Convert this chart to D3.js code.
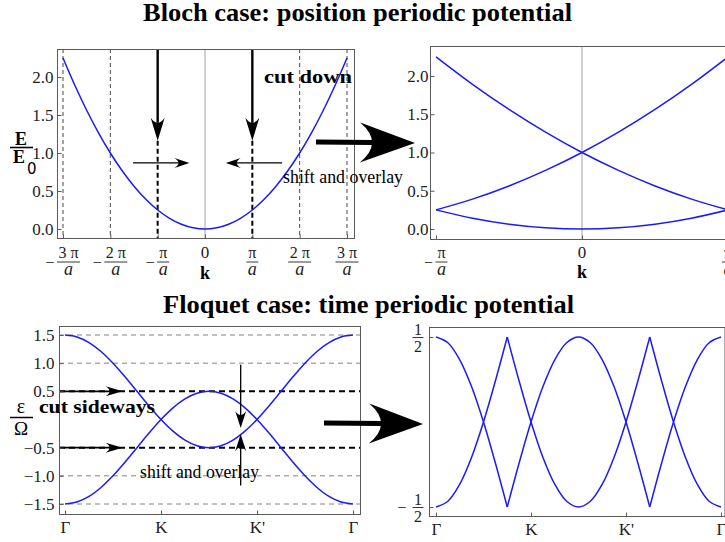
<!DOCTYPE html>
<html><head><meta charset="utf-8">
<script src="https://cdn.jsdelivr.net/npm/d3@7"></script>
<style>body{margin:0;background:#fff;} svg{display:block;}</style>
</head><body>
<svg id="chart" width="725" height="542"></svg>
<script>
// ---------------- data ----------------
const blochK = [-3,-2.75,-2.5,-2.25,-2,-1.75,-1.5,-1.25,-1,-0.75,-0.5,-0.25,0,0.25,0.5,0.75,1,1.25,1.5,1.75,2,2.25,2.5,2.75,3];
const blochEnergy = [2.25,1.891,1.563,1.266,1.0,0.766,0.563,0.391,0.25,0.141,0.063,0.016,0,0.016,0.063,0.141,0.25,0.391,0.563,0.766,1.0,1.266,1.563,1.891,2.25];
const blochYTicks = [0,0.5,1,1.5,2];
const blochXTicks = [-3,-2,-1,0,1,2,3];
const blochXTickSigns = ["−","−","−","","","",""];
const blochXTickNums = ["3 π","2 π","π","0","π","2 π","3 π"];
const blochXTickDens = ["a","a","a","","a","a","a"];
const blochFoldXTicks = [-1,0,1];
const blochFoldXTickSigns = ["−","",""];
const blochFoldXTickNums = ["π","0","π"];
const blochFoldXTickDens = ["a","","a"];

const floquetT = [0,0.125,0.25,0.375,0.5,0.625,0.75,0.875,1,1.125,1.25,1.375,1.5,1.625,1.75,1.875,2,2.125,2.25,2.375,2.5,2.625,2.75,2.875,3];
const floquetUpper = [1.5,1.466,1.366,1.207,1.0,0.759,0.5,0.241,0,-0.207,-0.366,-0.466,-0.5,-0.466,-0.366,-0.207,0,0.241,0.5,0.759,1.0,1.207,1.366,1.466,1.5];
const floquetLower = [-1.5,-1.466,-1.366,-1.207,-1.0,-0.759,-0.5,-0.241,0,0.207,0.366,0.466,0.5,0.466,0.366,0.207,0,-0.241,-0.5,-0.759,-1.0,-1.207,-1.366,-1.466,-1.5];
const floquetXTicks = [0,1,2,3];
const floquetXTickLabels = ["Γ","K","K'","Γ"];
const floquetYTicks = [1.5,1.0,0.5,-0.5,-1.0,-1.5];
const floquetThinLines = [1.5,1.0,-1.0,-1.5];
const floquetCutLines = [0.5,-0.5];
const floquetFoldYTicks = [0.5,-0.5];
const floquetFoldYSigns = ["","−"];

// ---------------- setup ----------------
const SERIF = "'Liberation Serif','DejaVu Serif','Times New Roman',serif";
const BLUE = "#1a1aff";
const FRAME = "#5a5a5a";
const svg = d3.select("#chart");

const P1 = {l:57, r:354, t:49, b:238};
const x1 = d3.scaleLinear().domain([-3,3]).range([63,347]);
const y1 = d3.scaleLinear().domain([0,2]).range([229,77]);
const P2 = {l:430, r:742, t:46, b:239};
const x2 = d3.scaleLinear().domain([-1,1]).range([436,728]);
const y2 = d3.scaleLinear().domain([0,2]).range([229,76]);
const P3 = {l:59, r:360, t:326, b:514};
const x3 = d3.scaleLinear().domain([0,3]).range([65,353]);
const y3 = d3.scaleLinear().domain([-1.5,1.5]).range([504,335]);
const P4 = {l:429, r:724.5, t:327, b:516};
const x4 = d3.scaleLinear().domain([0,3]).range([436,721]);
const y4 = d3.scaleLinear().domain([-0.5,0.5]).range([507,337]);

function frame(P){
  svg.append("rect").attr("x",P.l+0.5).attr("y",P.t+0.5)
    .attr("width",P.r-P.l).attr("height",P.b-P.t)
    .attr("fill","none").attr("stroke",FRAME).attr("stroke-width",1);
}
function curve(x,y,pts){
  return svg.append("path").datum(pts)
    .attr("d", d3.line().x(d=>x(d.x)).y(d=>y(d.y)).curve(d3.curveCatmullRom.alpha(0.5)))
    .attr("fill","none").attr("stroke",BLUE).attr("stroke-width",1.5);
}
// split a sampled band into pieces translated back into the first zone
function fold(xs, ys, shiftFn){
  const segs=[]; let cur=null, key=null;
  for(let i=0;i<xs.length-1;i++){
    const s = shiftFn((xs[i]+xs[i+1])/2,(ys[i]+ys[i+1])/2);
    const k = s.join(",");
    if(k!==key){ cur=[{x:xs[i]+s[0],y:ys[i]+s[1]}]; segs.push(cur); key=k; }
    cur.push({x:xs[i+1]+s[0],y:ys[i+1]+s[1]});
  }
  return segs;
}
function head(tx,ty,ang,L,W,notch){
  const p = `M0,0 L${-L},${-W/2} Q${-L+2*notch},0 ${-L},${W/2} Z`;
  svg.append("path").attr("d",p).attr("fill","#000")
    .attr("transform",`translate(${tx},${ty}) rotate(${ang})`);
}
function arrow(x0,y0,x1_,y1_,sw,L,W,notch){
  const ang = Math.atan2(y1_-y0,x1_-x0)*180/Math.PI;
  const len = Math.hypot(x1_-x0,y1_-y0);
  const ex = x0 + (x1_-x0)*(len-L+notch)/len, ey = y0 + (y1_-y0)*(len-L+notch)/len;
  svg.append("line").attr("x1",x0).attr("y1",y0).attr("x2",ex).attr("y2",ey)
    .attr("stroke","#000").attr("stroke-width",sw);
  head(x1_,y1_,ang,L,W,notch);
}
function styleAxis(g, size){
  g.select(".domain").remove();
  g.selectAll(".tick line").attr("stroke",FRAME);
  g.selectAll("text").attr("font-family",SERIF).attr("font-size",size).attr("fill","#222");
}
function fracLabel(cx, sign, num, den, yNum, yBar, yDen){
  const grp = svg.append("g");
  if(!den){
    grp.append("text").attr("x",cx).attr("y",yNum).attr("text-anchor","middle")
      .attr("font-family",SERIF).attr("font-size",17).attr("fill","#222").text(num);
    return;
  }
  const tN = grp.append("text").attr("text-anchor","middle").attr("font-family",SERIF)
    .attr("font-size",16).attr("fill","#222").text(num);
  const tD = grp.append("text").attr("text-anchor","middle").attr("font-family",SERIF)
    .attr("font-style","italic").attr("font-size",18).attr("fill","#222").text(den);
  const w = Math.max(tN.node().getComputedTextLength(), tD.node().getComputedTextLength()) + 3;
  const sW = sign ? 11 : 0;
  const left = cx - (sW + w)/2;
  const fc = left + sW + w/2;
  tN.attr("x",fc).attr("y",yNum);
  tD.attr("x",fc).attr("y",yDen);
  grp.append("line").attr("x1",fc-w/2).attr("x2",fc+w/2).attr("y1",yBar).attr("y2",yBar)
    .attr("stroke","#222").attr("stroke-width",0.9);
  if(sign) grp.append("text").attr("x",left+4).attr("y",yBar+5.5).attr("text-anchor","middle")
    .attr("font-family",SERIF).attr("font-size",16).attr("fill","#222").text(sign);
}

// ---------------- titles ----------------
svg.append("text").attr("x",143).attr("y",21).attr("font-family",SERIF).attr("font-weight","bold")
  .attr("font-size",25).attr("textLength",429).attr("lengthAdjust","spacingAndGlyphs")
  .text("Bloch case: position periodic potential");
svg.append("text").attr("x",163).attr("y",313).attr("font-family",SERIF).attr("font-weight","bold")
  .attr("font-size",25).attr("textLength",411).attr("lengthAdjust","spacingAndGlyphs")
  .text("Floquet case: time periodic potential");

// ---------------- panel 1: Bloch extended ----------------
svg.append("line").attr("x1",x1(0)).attr("x2",x1(0)).attr("y1",P1.t).attr("y2",P1.b)
  .attr("stroke","#b0b0b0").attr("stroke-width",1.2);
[-3,-2,2,3].forEach(v=>{
  svg.append("line").attr("x1",x1(v)).attr("x2",x1(v)).attr("y1",P1.t).attr("y2",P1.b)
    .attr("stroke","#333").attr("stroke-width",0.9).attr("stroke-dasharray","4,3");
});
const cutTipE = 1.16;
[-1,1].forEach(v=>{
  svg.append("line").attr("x1",x1(v)).attr("x2",x1(v)).attr("y1",y1(cutTipE)).attr("y2",P1.b)
    .attr("stroke","#000").attr("stroke-width",2).attr("stroke-dasharray","5,3");
  arrow(x1(v),P1.t,x1(v),y1(cutTipE),2.4,23,14,5);
});
curve(x1,y1,blochK.map((k,i)=>({x:k,y:blochEnergy[i]})));
frame(P1);
const ax1y = svg.append("g").attr("transform",`translate(${P1.l+0.5},0)`)
  .call(d3.axisLeft(y1).tickValues(blochYTicks).tickFormat(d3.format(".1f")).tickSizeInner(-4).tickSizeOuter(0).tickPadding(4));
styleAxis(ax1y,17);
const ax1x = svg.append("g").attr("transform",`translate(0,${P1.b+0.5})`)
  .call(d3.axisBottom(x1).tickValues(blochXTicks).tickFormat(()=>"").tickSizeInner(-4).tickSizeOuter(0));
styleAxis(ax1x,17);
blochXTicks.forEach((v,i)=>fracLabel(x1(v),blochXTickSigns[i],blochXTickNums[i],blochXTickDens[i],258,262,275));
svg.append("text").attr("x",x1(0)).attr("y",279).attr("text-anchor","middle").attr("font-family",SERIF)
  .attr("font-weight","bold").attr("font-size",18).text("k");
// E/E0 label
svg.append("text").attr("x",21).attr("y",145).attr("text-anchor","middle").attr("font-family",SERIF)
  .attr("font-weight","bold").attr("font-size",18).text("E");
svg.append("line").attr("x1",10).attr("x2",33).attr("y1",147.5).attr("y2",147.5).attr("stroke","#000").attr("stroke-width",1.6);
svg.append("text").attr("x",13).attr("y",163).attr("font-family",SERIF)
  .attr("font-weight","bold").attr("font-size",18).text("E");
svg.append("text").attr("x",27).attr("y",174).attr("font-family","'DejaVu Sans',sans-serif")
  .attr("font-size",15).text("0");
// annotations
arrow(x1(-1.52),y1(0.87),x1(-0.33),y1(0.87),1.4,15,10,4);
arrow(x1(1.63),y1(0.87),x1(0.44),y1(0.87),1.4,15,10,4);
svg.append("text").attr("x",264).attr("y",83).attr("font-family",SERIF).attr("font-weight","bold")
  .attr("font-size",18).attr("textLength",88).attr("lengthAdjust","spacingAndGlyphs").text("cut down");
svg.append("text").attr("x",283).attr("y",183).attr("font-family",SERIF)
  .attr("font-size",19).attr("textLength",120).attr("lengthAdjust","spacingAndGlyphs").text("shift and overlay");

// ---------------- panel 2: Bloch reduced ----------------
svg.append("line").attr("x1",x2(0)).attr("x2",x2(0)).attr("y1",P2.t).attr("y2",P2.b)
  .attr("stroke","#b0b0b0").attr("stroke-width",1.2);
fold(blochK,blochEnergy,(mx)=>[-2*Math.round(mx/2),0]).forEach(seg=>curve(x2,y2,seg));
frame(P2);
const ax2y = svg.append("g").attr("transform",`translate(${P2.l+0.5},0)`)
  .call(d3.axisLeft(y2).tickValues(blochYTicks).tickFormat(d3.format(".1f")).tickSizeInner(-4).tickSizeOuter(0).tickPadding(2));
styleAxis(ax2y,17);
const ax2x = svg.append("g").attr("transform",`translate(0,${P2.b+0.5})`)
  .call(d3.axisBottom(x2).tickValues(blochFoldXTicks).tickFormat(()=>"").tickSizeInner(-4).tickSizeOuter(0));
styleAxis(ax2x,17);
blochFoldXTicks.forEach((v,i)=>fracLabel(x2(v),blochFoldXTickSigns[i],blochFoldXTickNums[i],blochFoldXTickDens[i],258,262,275));
svg.append("text").attr("x",x2(0)).attr("y",278).attr("text-anchor","middle").attr("font-family",SERIF)
  .attr("font-weight","bold").attr("font-size",18).text("k");

// big arrow top
arrow(316,142,415,143,5,55,40,12);

// ---------------- panel 3: Floquet extended ----------------
floquetThinLines.forEach(v=>{
  svg.append("line").attr("x1",P3.l).attr("x2",P3.r).attr("y1",y3(v)).attr("y2",y3(v))
    .attr("stroke","#777").attr("stroke-width",0.9).attr("stroke-dasharray","5,4");
});
floquetCutLines.forEach(v=>{
  svg.append("line").attr("x1",P3.l).attr("x2",P3.r).attr("y1",y3(v)).attr("y2",y3(v))
    .attr("stroke","#000").attr("stroke-width",2).attr("stroke-dasharray","6,4");
  arrow(P3.l,y3(v),x3(0.6),y3(v),1.6,17,10,4);
});
curve(x3,y3,floquetT.map((t,i)=>({x:t,y:floquetUpper[i]})));
curve(x3,y3,floquetT.map((t,i)=>({x:t,y:floquetLower[i]})));
frame(P3);
const ax3y = svg.append("g").attr("transform",`translate(${P3.l+0.5},0)`)
  .call(d3.axisLeft(y3).tickValues(floquetYTicks).tickFormat(d3.format(".1f")).tickSizeInner(-4).tickSizeOuter(0).tickPadding(5));
styleAxis(ax3y,17);
const ax3x = svg.append("g").attr("transform",`translate(0,${P3.b+0.5})`)
  .call(d3.axisBottom(x3).tickValues(floquetXTicks).tickFormat((d,i)=>floquetXTickLabels[i]).tickSizeInner(-4).tickSizeOuter(0).tickPadding(6));
styleAxis(ax3x,17);
// epsilon / Omega label
svg.append("text").attr("x",21).attr("y",413).attr("text-anchor","middle").attr("font-family",SERIF)
  .attr("font-size",20).text("ε");
svg.append("line").attr("x1",10).attr("x2",33).attr("y1",417.5).attr("y2",417.5).attr("stroke","#000").attr("stroke-width",1.5);
svg.append("text").attr("x",21).attr("y",435).attr("text-anchor","middle").attr("font-family",SERIF)
  .attr("font-size",19).text("Ω");
svg.append("text").attr("x",39).attr("y",413).attr("font-family",SERIF).attr("font-weight","bold")
  .attr("font-size",19).attr("textLength",116).attr("lengthAdjust","spacingAndGlyphs").text("cut sideways");
svg.append("text").attr("x",140).attr("y",478).attr("font-family",SERIF)
  .attr("font-size",19).attr("textLength",119).attr("lengthAdjust","spacingAndGlyphs").text("shift and overlay");
arrow(x3(1.83),y3(0.97),x3(1.83),y3(-0.15),1.3,17,11,4);
arrow(x3(1.83),y3(-1.17),x3(1.83),y3(-0.26),1.3,17,11,4);

// ---------------- panel 4: Floquet reduced ----------------
const fShift = (mx,my)=>[0, my>0.5 ? -1 : (my<-0.5 ? 1 : 0)];
fold(floquetT,floquetUpper,fShift).forEach(seg=>curve(x4,y4,seg));
fold(floquetT,floquetLower,fShift).forEach(seg=>curve(x4,y4,seg));
frame(P4);
const ax4y = svg.append("g").attr("transform",`translate(${P4.l+0.5},0)`)
  .call(d3.axisLeft(y4).tickValues(floquetFoldYTicks).tickFormat(()=>"").tickSizeInner(-4).tickSizeOuter(0));
styleAxis(ax4y,17);
floquetFoldYTicks.forEach((v,i)=>{
  const yb = y4(v);
  const fc = 418;
  svg.append("text").attr("x",fc).attr("y",yb-2).attr("text-anchor","middle").attr("font-family",SERIF)
    .attr("font-size",16).attr("fill","#222").text("1");
  svg.append("line").attr("x1",fc-5.5).attr("x2",fc+5.5).attr("y1",yb+0.5).attr("y2",yb+0.5).attr("stroke","#222").attr("stroke-width",0.9);
  svg.append("text").attr("x",fc).attr("y",yb+15).attr("text-anchor","middle").attr("font-family",SERIF)
    .attr("font-size",16).attr("fill","#222").text("2");
  if(floquetFoldYSigns[i]) svg.append("text").attr("x",fc-16).attr("y",yb+5.5).attr("text-anchor","middle")
    .attr("font-family",SERIF).attr("font-size",16).attr("fill","#222").text(floquetFoldYSigns[i]);
});
const ax4x = svg.append("g").attr("transform",`translate(0,${P4.b+0.5})`)
  .call(d3.axisBottom(x4).tickValues(floquetXTicks).tickFormat((d,i)=>floquetXTickLabels[i]).tickSizeInner(-4).tickSizeOuter(0).tickPadding(6));
styleAxis(ax4x,17);

// big arrow bottom
arrow(324,423,423,424,5,54,40,12);
</script>
</body></html>
